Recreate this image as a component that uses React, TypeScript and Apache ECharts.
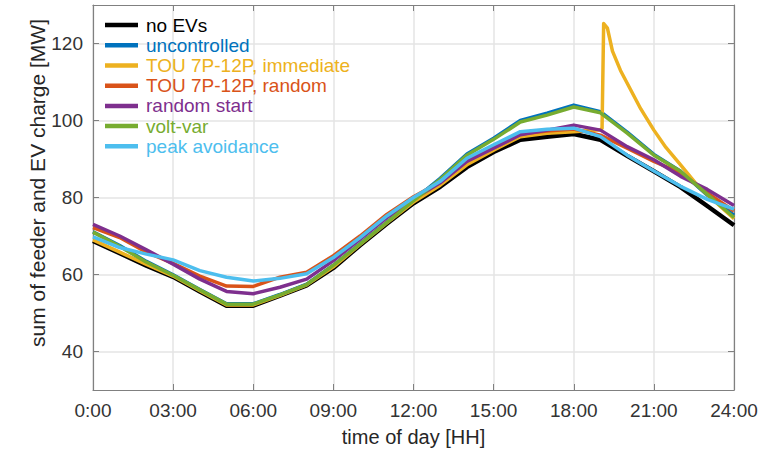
import React, { useEffect, useRef } from 'react';
import * as echarts from 'echarts';

// ---- data ----
const hours = [0, 1, 2, 3, 4, 5, 6, 7, 8, 9, 10, 11, 12, 13, 14, 15, 16, 17, 18, 19, 20, 21, 22, 23, 24];

const noEVs = [68.7, 65.5, 62.3, 59.4, 55.6, 51.9, 51.9, 54.5, 57.2, 61.7, 67.6, 73.2, 78.5, 82.8, 87.9, 91.8, 95.0, 95.8, 96.5, 95.0, 90.8, 86.8, 82.7, 77.8, 72.8];
const uncontrolled = [71.1, 67.5, 63.4, 59.9, 56.1, 52.4, 52.4, 54.8, 57.5, 62.4, 68.0, 73.6, 79.3, 85.0, 91.3, 95.4, 100.0, 101.9, 104.0, 102.3, 97.0, 91.2, 86.8, 80.6, 75.4];
const touImmHours = [0, 1, 2, 3, 4, 5, 6, 7, 8, 9, 10, 11, 12, 13, 14, 15, 16, 17, 18, 19, 19.06, 19.12, 19.26, 19.45, 19.75, 20.13, 20.51, 21.0, 21.45, 22.0, 22.6, 23, 24];
const touImmediate = [69.0, 65.8, 62.6, 59.6, 55.8, 52.1, 52.1, 54.6, 57.3, 62.0, 67.8, 73.4, 78.8, 83.2, 88.5, 92.3, 95.8, 96.7, 97.1, 97.6, 98.0, 125.2, 124.0, 118.0, 113.0, 108.0, 103.0, 97.5, 93.0, 88.5, 83.4, 80.8, 74.5];
const touRandom = [72.2, 69.6, 65.8, 62.9, 59.6, 57.0, 56.9, 59.3, 60.6, 64.9, 70.0, 75.6, 80.2, 84.0, 89.6, 93.0, 96.5, 97.3, 97.8, 96.2, 92.8, 89.4, 86.4, 81.2, 76.5];
const randomStart = [73.0, 70.0, 66.4, 62.7, 58.8, 55.6, 55.0, 56.7, 58.8, 63.6, 69.2, 74.8, 79.6, 83.8, 89.4, 92.8, 96.3, 97.5, 98.8, 97.5, 93.2, 89.8, 85.5, 82.1, 77.9];
const voltVar = [71.0, 67.3, 63.2, 59.8, 56.0, 52.3, 52.3, 54.7, 57.4, 62.4, 67.9, 73.5, 79.2, 84.7, 91.0, 95.1, 99.6, 101.4, 103.5, 102.0, 96.7, 91.0, 86.8, 80.8, 74.8];
const peakAvoidance = [69.8, 67.0, 65.3, 63.8, 61.0, 59.3, 58.3, 59.0, 60.2, 64.4, 69.6, 75.2, 80.0, 84.2, 90.2, 93.7, 97.1, 97.7, 98.0, 95.8, 91.0, 86.9, 82.9, 79.5, 77.0];

const seriesNames = ['no EVs', 'uncontrolled', 'TOU 7P-12P, immediate', 'TOU 7P-12P, random', 'random start', 'volt-var', 'peak avoidance'];
const yTickValues = [40, 60, 80, 100, 120];
const xTickHours = [0, 3, 6, 9, 12, 15, 18, 21, 24];

// ---- styles ----
const FONT = '"Liberation Sans", Arial, Helvetica, sans-serif';
const seriesColors = ['#000000', '#0072BD', '#EDB120', '#D95319', '#7E2F8E', '#77AC30', '#4DBEEE'];
const lineWidths = [4.5, 3.5, 3.5, 3.5, 3.5, 3.5, 3.5];
const AXIS_COLOR = '#808080';
const LABEL_COLOR = '#333333';
const GRID_COLOR = '#e4e4e4';

function pairs(xs: number[], ys: number[]) {
  return ys.map((v, i) => [xs[i], v]);
}

function fmtHour(v: number) {
  if (v === 0) return '0:00';
  return (v < 10 ? '0' + v : String(v)) + ':00';
}

export default function App() {
  const ref = useRef<HTMLDivElement>(null);

  useEffect(() => {
    if (!ref.current) return;
    const chart = echarts.init(ref.current, null, { renderer: 'svg' });

    const seriesData = [
      pairs(hours, noEVs),
      pairs(hours, uncontrolled),
      pairs(touImmHours, touImmediate),
      pairs(hours, touRandom),
      pairs(hours, randomStart),
      pairs(hours, voltVar),
      pairs(hours, peakAvoidance),
    ];

    const option: any = {
      animation: false,
      backgroundColor: '#ffffff',
      grid: { left: 93, right: 34, top: 5, bottom: 62, containLabel: false },
      xAxis: [
        {
          type: 'value',
          min: 0,
          max: 24,
          interval: 3,
          position: 'bottom',
          name: 'time of day [HH]',
          nameLocation: 'middle',
          nameGap: 37,
          nameTextStyle: { fontSize: 20, color: '#262626', fontFamily: FONT },
          axisLine: { show: true, onZero: false, lineStyle: { color: AXIS_COLOR, width: 1.2 } },
          axisTick: { show: true, inside: true, length: 6, lineStyle: { color: AXIS_COLOR } },
          axisLabel: {
            formatter: (v: number) => (xTickHours.indexOf(v) >= 0 ? fmtHour(v) : ''),
            fontSize: 19,
            color: LABEL_COLOR,
            margin: 11,
            fontFamily: FONT,
          },
          splitLine: { show: true, lineStyle: { color: GRID_COLOR, width: 1.5 } },
        },
        {
          type: 'value',
          min: 0,
          max: 24,
          interval: 3,
          position: 'top',
          axisLine: { show: true, onZero: false, lineStyle: { color: AXIS_COLOR, width: 1.2 } },
          axisTick: { show: true, inside: true, length: 6, lineStyle: { color: AXIS_COLOR } },
          axisLabel: { show: false },
          splitLine: { show: false },
        },
      ],
      yAxis: [
        {
          type: 'value',
          min: 30,
          max: 130,
          position: 'left',
          axisLine: { show: true, onZero: false, lineStyle: { color: AXIS_COLOR, width: 1.2 } },
          axisTick: { show: true, inside: true, length: 6, customValues: yTickValues, lineStyle: { color: AXIS_COLOR } },
          axisLabel: { customValues: yTickValues, fontSize: 19, color: LABEL_COLOR, margin: 10, fontFamily: FONT },
          splitLine: { show: true, lineStyle: { color: GRID_COLOR, width: 1.5 } },
        },
        {
          type: 'value',
          min: 30,
          max: 130,
          position: 'right',
          axisLine: { show: true, onZero: false, lineStyle: { color: AXIS_COLOR, width: 1.2 } },
          axisTick: { show: true, inside: true, length: 6, customValues: yTickValues, lineStyle: { color: AXIS_COLOR } },
          axisLabel: { show: false },
          splitLine: { show: false },
        },
      ],
      legend: {
        orient: 'vertical',
        left: 100,
        top: 10,
        itemWidth: 33,
        itemHeight: 4.5,
        itemGap: 0,
        icon: 'rect',
        selectedMode: false,
        textStyle: { fontSize: 19, fontFamily: FONT, lineHeight: 20.2, padding: [0, 0, 0, 3] },
        data: seriesNames.map((n, i) => ({ name: n, textStyle: { color: seriesColors[i] } })),
      },
      graphic: [
        {
          type: 'text',
          x: 37,
          y: 183,
          rotation: Math.PI / 2,
          style: {
            text: 'sum of feeder and EV charge [MW]',
            fontSize: 21,
            fontFamily: FONT,
            fill: '#262626',
            textAlign: 'center',
            textVerticalAlign: 'middle',
          },
        },
      ],
      series: seriesNames.map((n, i) => ({
        name: n,
        type: 'line',
        xAxisIndex: 0,
        yAxisIndex: 0,
        data: seriesData[i],
        showSymbol: false,
        symbol: 'none',
        color: seriesColors[i],
        lineStyle: { color: seriesColors[i], width: lineWidths[i], join: 'round' },
        itemStyle: { color: seriesColors[i] },
        emphasis: { disabled: true },
      })),
    };

    chart.setOption(option);
    return () => chart.dispose();
  }, []);

  return (
    <div
      ref={ref}
      style={{ position: 'fixed', left: 0, top: 0, width: 768, height: 452, background: '#fff' }}
    />
  );
}
